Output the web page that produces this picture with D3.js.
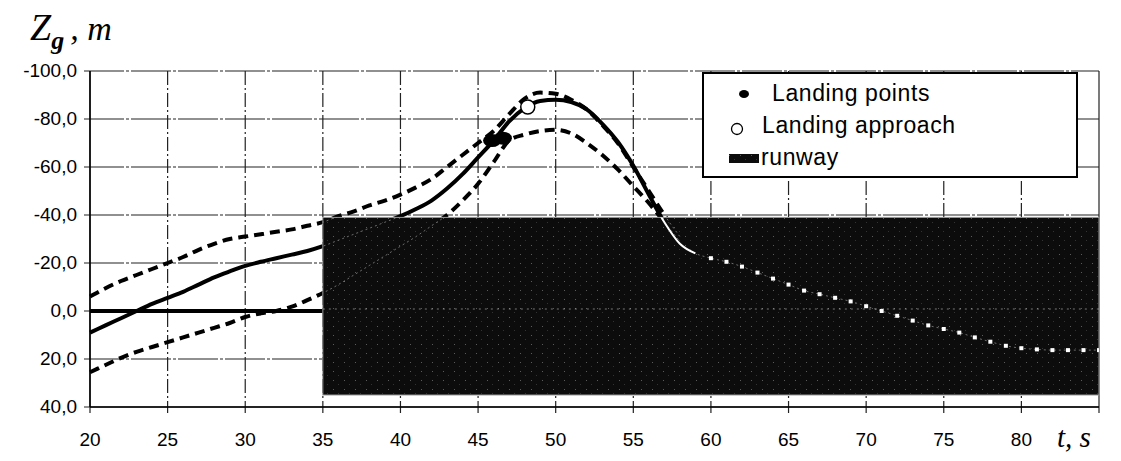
<!DOCTYPE html>
<html>
<head>
<meta charset="utf-8">
<script src="https://cdnjs.cloudflare.com/ajax/libs/d3/7.8.5/d3.min.js"></script>
<style>
  body { margin: 0; background: #fff; }
  text { font-family: "Liberation Sans", Arial, sans-serif; fill: #000; }
  .grid line { stroke: #222; stroke-width: 1.2; }
  .lab { font-family: "Liberation Serif", "Times New Roman", serif; font-style: italic; }
</style>
</head>
<body>
<div id="chart"></div>
<script>
var w = 1121;
var h = 461;

// time, s
var tMain = d3.range(20, 86);
// Zg, m (solid trajectory)
var zMain = [9, 6, 3, 0, -3, -5.5, -8, -11, -14, -16.5,
             -18.8, -20.5, -22, -23.5, -25, -27, -29.5, -32, -34.5, -37,
             -39.5, -42.5, -46, -51, -57, -64, -71, -79, -84.5, -87.5,
             -88, -87, -84, -78, -70.5, -60.5, -48.5, -37, -28, -24,
             -22, -20.5, -18.5, -16, -13.5, -11, -8.5, -7, -5.5, -4,
             -2, 0, 2, 4, 6, 7.5, 9, 11, 12.8, 14.5,
             15.5, 16, 16.3, 16.3, 16.3, 16.3];

var tBand = d3.range(20, 59);
var zUpper = [-6, -9.5, -12.5, -15, -17.5, -20, -22.5, -25.5, -28, -30,
              -31, -32, -33, -34, -35.5, -37, -39.5, -41.5, -44, -46,
              -48.5, -51.5, -55, -60, -65, -70, -75, -82, -88.5, -91,
              -90.5, -88, -84, -77.5, -70, -60, -50, -40, -31];
var zLower = [25.5, 22.5, 19.5, 17, 15, 13, 11, 9, 7, 5,
              2.5, 1, 0, -1.8, -4.5, -7.5, -11, -15, -19, -23,
              -27, -31, -35.5, -40, -46, -53, -62, -71, -73.5, -75,
              -75.5, -74, -70, -65, -59, -52, -45, -37, -29];

var landingT = [45.9, 46.6];
var landingZ = [-71, -72];
var approachT = [48.2];
var approachZ = [-85];

var runwayT = [35, 85];
var runwayZ = [-39, 35];

var xTicks = [20, 25, 30, 35, 40, 45, 50, 55, 60, 65, 70, 75, 80, 85];
var xLabels = [20, 25, 30, 35, 40, 45, 50, 55, 60, 65, 70, 75, 80];
var yTicks = [-100, -80, -60, -40, -20, 0, 20, 40];

var legendNames = ["Landing points", "Landing approach", "runway"];

var mainData = tMain.map(function(t, i) { return [t, zMain[i]]; });
var upperData = tBand.map(function(t, i) { return [t, zUpper[i]]; });
var lowerData = tBand.map(function(t, i) { return [t, zLower[i]]; });

//Create scale functions
var xScale = d3.scaleLinear().domain([20, 85]).range([90, 1099]);
var yScale = d3.scaleLinear().domain([-100, 40]).range([71, 407]);

var svg = d3.select("#chart")
            .append("svg")
            .attr("width", w)
            .attr("height", h);

var defs = svg.append("defs");
var pat = defs.append("pattern")
    .attr("id", "speck")
    .attr("patternUnits", "userSpaceOnUse")
    .attr("width", 11)
    .attr("height", 9);
pat.append("rect").attr("width", 11).attr("height", 9).attr("fill", "#0c0c0c");
pat.append("rect").attr("x", 3).attr("y", 2).attr("width", 1).attr("height", 1).attr("fill", "#5a5a5a");
pat.append("rect").attr("x", 8).attr("y", 6).attr("width", 1).attr("height", 1).attr("fill", "#333");

defs.append("clipPath")
    .attr("id", "runwayClip")
    .append("rect")
    .attr("x", xScale(runwayT[0]))
    .attr("y", yScale(runwayZ[0]))
    .attr("width", xScale(runwayT[1]) - xScale(runwayT[0]))
    .attr("height", yScale(runwayZ[1]) - yScale(runwayZ[0]));

//Grid
var grid = svg.append("g").attr("class", "grid");
grid.selectAll(".hg")
    .data(yTicks)
    .enter()
    .append("line")
    .attr("x1", xScale(20) - 6)
    .attr("x2", xScale(85))
    .attr("y1", function(d) { return yScale(d); })
    .attr("y2", function(d) { return yScale(d); })
    .attr("stroke-dasharray", function(d) { return (d == 40) ? null : "40,2,3,2"; });
grid.selectAll(".vg")
    .data(xTicks)
    .enter()
    .append("line")
    .attr("x1", function(d) { return xScale(d); })
    .attr("x2", function(d) { return xScale(d); })
    .attr("y1", yScale(-100))
    .attr("y2", yScale(40) + 6)
    .attr("stroke-dasharray", function(d) { return (d == 20 || d == 85) ? null : "14,3,2,3"; });

//Axis labels
svg.selectAll(".ylab")
   .data(yTicks)
   .enter()
   .append("text")
   .attr("x", 77)
   .attr("y", function(d) { return yScale(d) + 6; })
   .attr("text-anchor", "end")
   .attr("font-size", 19)
   .text(function(d) { return d3.format(".1f")(d).replace(".", ",").replace("−", "-"); });

svg.selectAll(".xlab")
   .data(xLabels)
   .enter()
   .append("text")
   .attr("x", function(d) { return xScale(d); })
   .attr("y", 446)
   .attr("text-anchor", "middle")
   .attr("font-size", 19)
   .text(function(d) { return d; });

var zl = svg.append("text").attr("class", "lab").attr("x", 30).attr("y", 40).attr("font-size", 38);
zl.append("tspan").text("Z");
zl.append("tspan").attr("font-size", 26).attr("font-weight", "bold").attr("dy", 9).text("g");
zl.append("tspan").attr("font-size", 34).attr("dy", -9).attr("dx", 6).text(",  m");

svg.append("text").attr("class", "lab")
   .attr("x", 1057).attr("y", 447)
   .attr("font-size", 29)
   .text("t,  s");

//Lines
var line = d3.line()
             .x(function(d) { return xScale(d[0]); })
             .y(function(d) { return yScale(d[1]); })
             .curve(d3.curveMonotoneX);

svg.append("line")
   .attr("x1", xScale(20)).attr("x2", xScale(85))
   .attr("y1", yScale(0)).attr("y2", yScale(0))
   .attr("stroke", "#000").attr("stroke-width", 4);

svg.append("path").datum(upperData)
   .attr("d", line).attr("fill", "none")
   .attr("stroke", "#000").attr("stroke-width", 4)
   .attr("stroke-dasharray", "10,6");

svg.append("path").datum(lowerData)
   .attr("d", line).attr("fill", "none")
   .attr("stroke", "#000").attr("stroke-width", 4)
   .attr("stroke-dasharray", "10,6");

svg.append("path").datum(mainData)
   .attr("d", line).attr("fill", "none")
   .attr("stroke", "#000").attr("stroke-width", 4);

//Runway
svg.append("rect")
   .attr("x", xScale(runwayT[0]))
   .attr("y", yScale(runwayZ[0]))
   .attr("width", xScale(runwayT[1]) - xScale(runwayT[0]))
   .attr("height", yScale(runwayZ[1]) - yScale(runwayZ[0]))
   .attr("fill", "url(#speck)")
   .attr("stroke", "#999")
   .attr("stroke-width", 1);

// traces seen through the runway
var inside = svg.append("g").attr("clip-path", "url(#runwayClip)");
inside.append("line")
   .attr("x1", xScale(35)).attr("x2", xScale(85))
   .attr("y1", yScale(0) - 2).attr("y2", yScale(0) - 2)
   .attr("stroke", "#fff").attr("stroke-opacity", 0.45)
   .attr("stroke-width", 1).attr("stroke-dasharray", "2,4");
[upperData, lowerData, mainData].forEach(function(dd) {
    inside.append("path").datum(dd)
       .attr("d", line).attr("fill", "none")
       .attr("stroke", "#fff").attr("stroke-opacity", 0.4)
       .attr("stroke-width", 1).attr("stroke-dasharray", "2,3");
});
inside.append("path")
   .datum(mainData.filter(function(d) { return d[0] >= 56 && d[0] <= 59; }))
   .attr("d", line).attr("fill", "none")
   .attr("stroke", "#fff").attr("stroke-width", 2);
inside.selectAll(".dot")
   .data(mainData.filter(function(d) { return d[0] >= 60; }))
   .enter()
   .append("rect")
   .attr("x", function(d) { return xScale(d[0]) - 2; })
   .attr("y", function(d) { return yScale(d[1]) - 2; })
   .attr("width", 4).attr("height", 4)
   .attr("fill", "#fff");

//Points
svg.selectAll(".land")
   .data(landingT)
   .enter()
   .append("ellipse")
   .attr("cx", function(d) { return xScale(d); })
   .attr("cy", function(d, i) { return yScale(landingZ[i]); })
   .attr("rx", 9).attr("ry", 6.5)
   .attr("fill", "#000");

svg.selectAll(".appr")
   .data(approachT)
   .enter()
   .append("circle")
   .attr("cx", function(d) { return xScale(d); })
   .attr("cy", function(d, i) { return yScale(approachZ[i]); })
   .attr("r", 7)
   .attr("fill", "#fff")
   .attr("stroke", "#000")
   .attr("stroke-width", 1.5);

//Axes
svg.append("line").attr("x1", 90).attr("x2", 90).attr("y1", 71).attr("y2", 407)
   .attr("stroke", "#000").attr("stroke-width", 1.5);
svg.append("line").attr("x1", 90).attr("x2", 1099).attr("y1", 407).attr("y2", 407)
   .attr("stroke", "#000").attr("stroke-width", 1.5);

//Legend
var lg = svg.append("g");
lg.append("rect")
  .attr("x", 703).attr("y", 73).attr("width", 374).attr("height", 104)
  .attr("fill", "#fff").attr("stroke", "#000").attr("stroke-width", 2);
lg.append("ellipse").attr("cx", 744).attr("cy", 94).attr("rx", 5).attr("ry", 4).attr("fill", "#000");
lg.append("circle").attr("cx", 737).attr("cy", 129).attr("r", 5.5)
  .attr("fill", "#fff").attr("stroke", "#000").attr("stroke-width", 1.3);
lg.append("rect").attr("x", 729).attr("y", 154).attr("width", 30).attr("height", 9)
  .attr("fill", "url(#speck)");
lg.selectAll(".lt")
  .data(legendNames)
  .enter()
  .append("text")
  .attr("x", function(d, i) { return [772, 762, 761][i]; })
  .attr("y", function(d, i) { return [101, 133, 165][i]; })
  .attr("font-size", 23)
  .attr("letter-spacing", 0.6)
  .text(function(d) { return d; });
</script>
</body>
</html>
